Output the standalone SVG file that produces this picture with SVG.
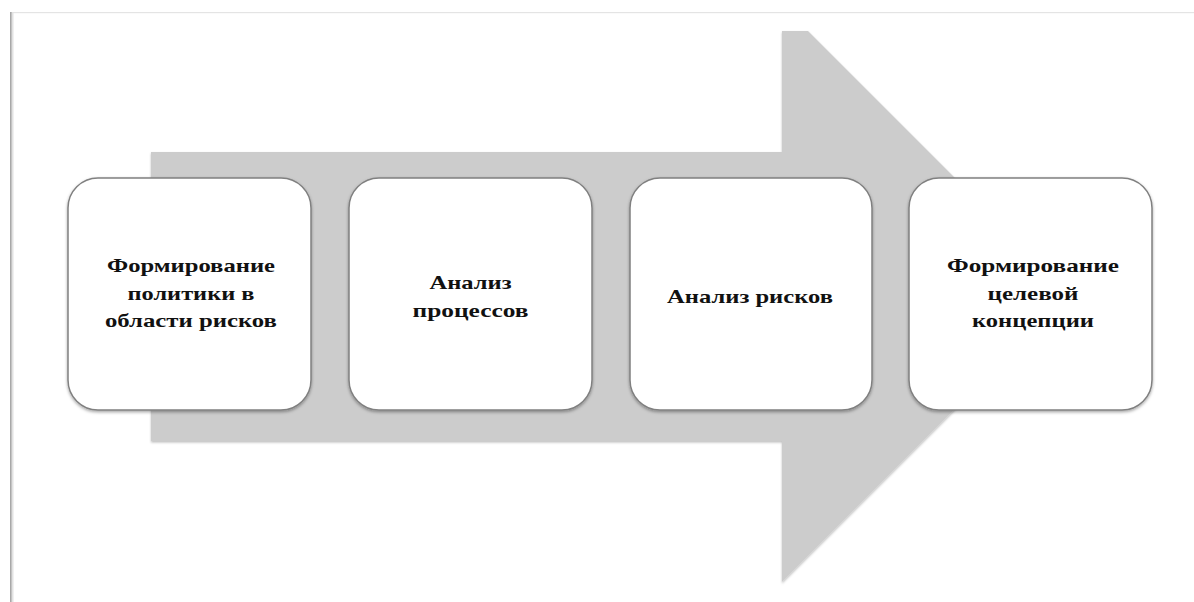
<svg xmlns="http://www.w3.org/2000/svg" width="1194" height="602" viewBox="0 0 1194 602">
  <style>
    .box { fill: #ffffff; stroke: #808080; stroke-width: 1.5; filter: url(#shadow); }
    .lbl { font-family: "Liberation Serif", "DejaVu Serif", serif; font-weight: bold; font-size: 19px; fill: #111111; text-anchor: middle; }
    .arrow { fill: #cccccc; filter: url(#ashadow); }
  </style>
  <defs>
    <filter id="shadow" x="-10%" y="-10%" width="120%" height="120%">
      <feDropShadow dx="0" dy="1.5" stdDeviation="1.5" flood-color="#000000" flood-opacity="0.35"/>
    </filter>
    <filter id="ashadow" x="-5%" y="-5%" width="110%" height="110%">
      <feDropShadow dx="0" dy="1.5" stdDeviation="1" flood-color="#000000" flood-opacity="0.25"/>
    </filter>
  </defs>
  <rect x="0" y="0" width="1194" height="602" fill="#ffffff"/>
  <g id="frame">
    <rect x="10" y="12" width="1184" height="1.2" fill="#e4e4e4"/>
    <rect x="11.5" y="12" width="2" height="590" fill="#e2e2e2"/>
    <rect x="10" y="12" width="1.6" height="590" fill="#a8a8a8"/>
  </g>
  <g id="connectors">
    <path class="arrow" d="M151,152 H782 V31 H808 L1070.5,293.5 L782,582 V441 H151 Z"/>
  </g>
  <g id="node1">
    <rect class="box" x="68" y="178" width="243" height="232" rx="30" ry="30"/>
    <text class="lbl"><tspan x="191" y="272" textLength="168" lengthAdjust="spacingAndGlyphs">Формирование</tspan><tspan x="191" y="299.5" textLength="127" lengthAdjust="spacingAndGlyphs">политики в</tspan><tspan x="191" y="327" textLength="172" lengthAdjust="spacingAndGlyphs">области рисков</tspan></text>
  </g>
  <g id="node2">
    <rect class="box" x="349" y="178" width="243" height="232" rx="30" ry="30"/>
    <text class="lbl"><tspan x="470.5" y="289" textLength="82" lengthAdjust="spacingAndGlyphs">Анализ</tspan><tspan x="470.5" y="316.5" textLength="116" lengthAdjust="spacingAndGlyphs">процессов</tspan></text>
  </g>
  <g id="node3">
    <rect class="box" x="630" y="178" width="242" height="232" rx="30" ry="30"/>
    <text class="lbl"><tspan x="750" y="302.5" textLength="166" lengthAdjust="spacingAndGlyphs">Анализ рисков</tspan></text>
  </g>
  <g id="node4">
    <rect class="box" x="909" y="178" width="243" height="232" rx="30" ry="30"/>
    <text class="lbl"><tspan x="1033" y="272" textLength="172" lengthAdjust="spacingAndGlyphs">Формирование</tspan><tspan x="1033" y="299.5" textLength="91" lengthAdjust="spacingAndGlyphs">целевой</tspan><tspan x="1033" y="327" textLength="122" lengthAdjust="spacingAndGlyphs">концепции</tspan></text>
  </g>
</svg>
